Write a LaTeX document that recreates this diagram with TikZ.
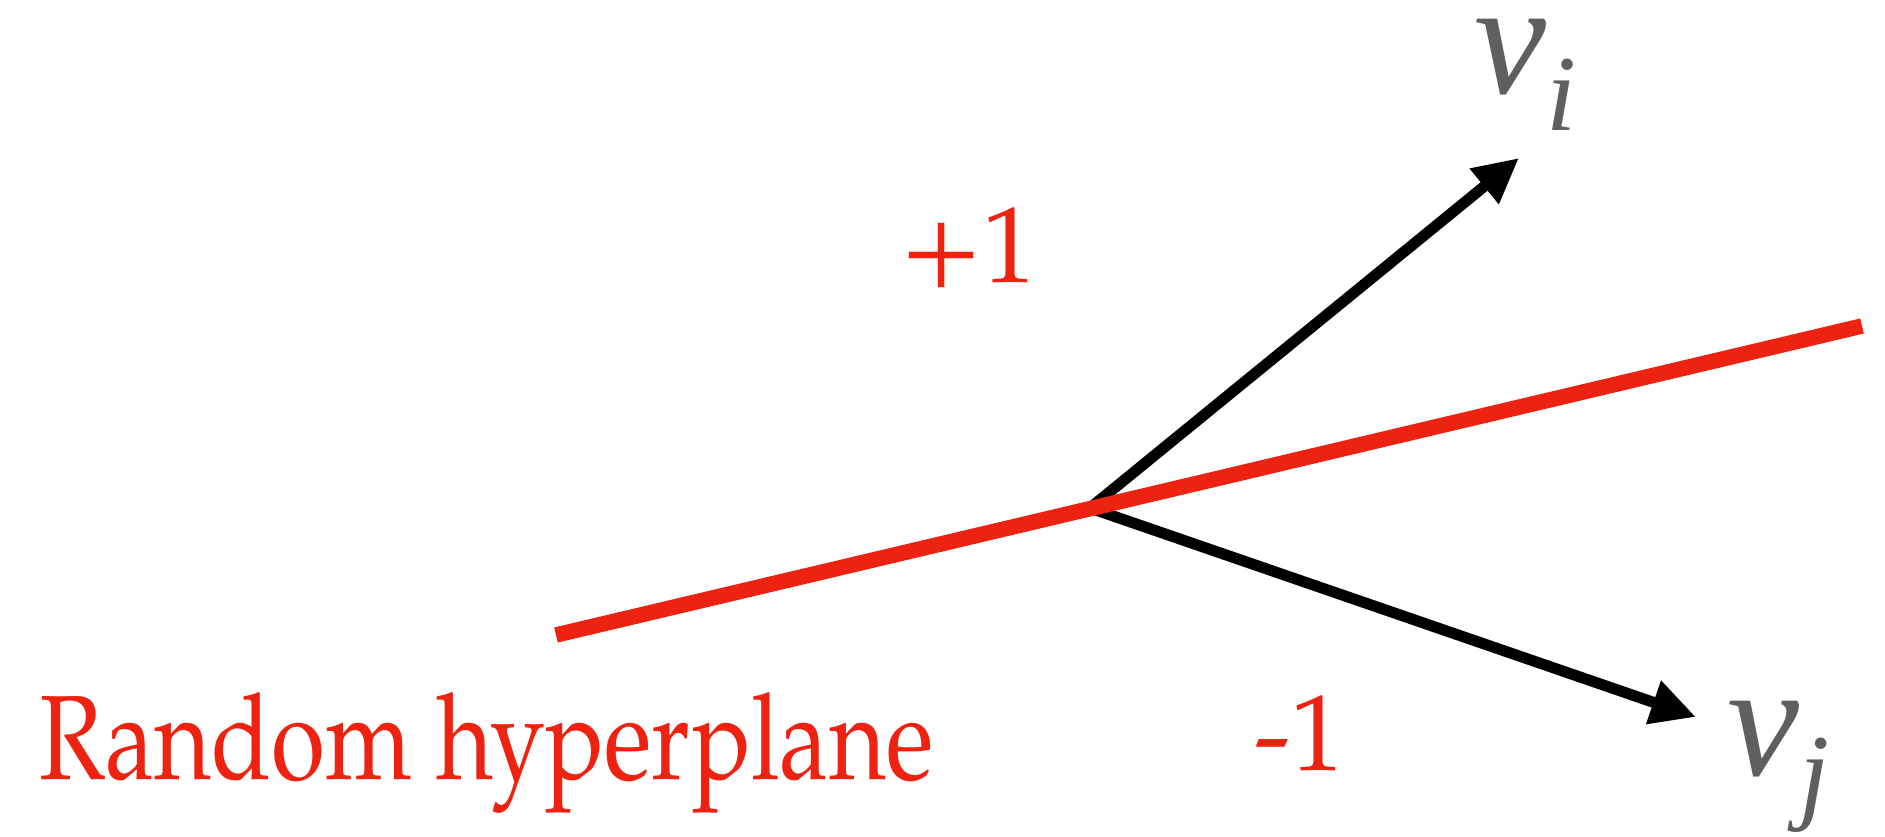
\documentclass[tikz,border=0pt]{standalone}
\usepackage{fontspec}
\setmainfont{TeX Gyre Pagella}
\newfontfamily\vfont{Liberation Serif}
\usetikzlibrary{arrows.meta}
\definecolor{hred}{HTML}{EE2211}
\definecolor{vgray}{HTML}{5F5F5F}
\tikzset{
  hyper/.style={draw=hred, line width=7.75pt, line cap=butt},
  vec/.style={draw=black, line width=5.5pt, -{Triangle[length=22.5pt,width=21.5pt]}},
  redlab/.style={text=hred, inner sep=0pt, anchor=base west, font=\fontsize{54}{54}\selectfont},
  biglab/.style={text=hred, inner sep=0pt, anchor=base west, font=\fontsize{60}{60}\selectfont},
  vlab/.style={text=vgray, inner sep=0pt, anchor=base west, font=\vfont\fontsize{81}{81}\selectfont\itshape}
}
\newcommand{\vsub}[2]{v\raisebox{-#2}{\fontsize{54}{54}\selectfont\itshape #1}}
\begin{document}
\begin{tikzpicture}[x=0.5pt,y=-0.5pt]
\useasboundingbox (0,0) rectangle (1885,836);
\coordinate (O) at (1090,508);
\coordinate (ti) at (1519,158);
\coordinate (tj) at (1696,717);
\coordinate (hl) at (556,635);
\coordinate (hr) at (1862,326);
\draw[vec] (O) -- (ti);
\draw[vec] (O) -- (tj);
\draw[hyper] (hl) -- (hr);
\node[vlab] (vi) at (1474,93) {\vsub{i}{18.5pt}};
\node[vlab] (vj) at (1727,775) {\vsub{j}{17pt}};
\node[redlab] (plus) at (900,282) {+1};
\node[redlab] (minus) at (1254,770) {-1};
\node[biglab] (rh) at (39,779) {\scalebox{0.82}[1]{Random hyperplane}};
\end{tikzpicture}
\end{document}
